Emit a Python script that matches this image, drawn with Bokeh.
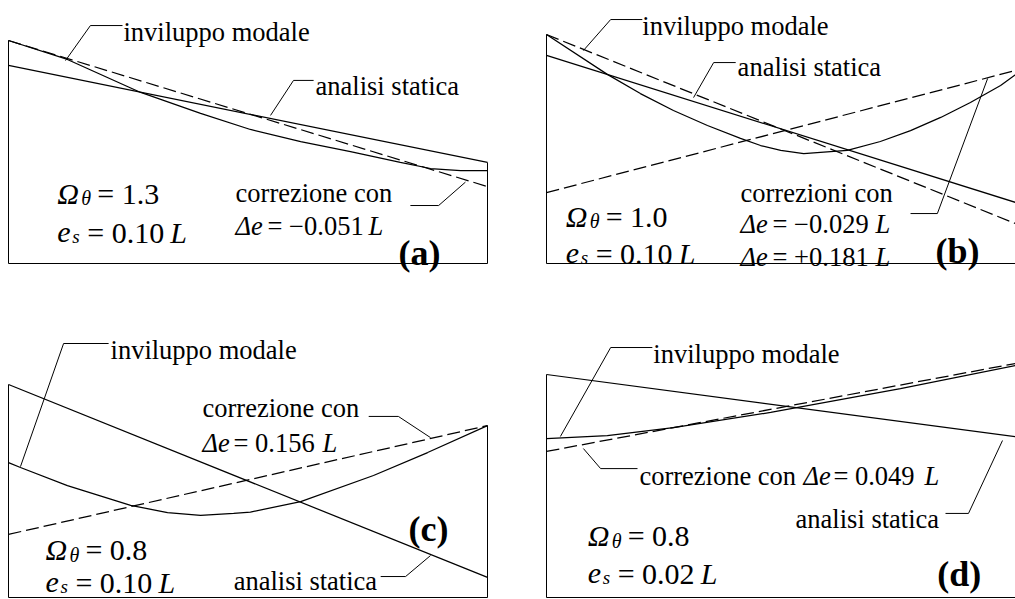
from bokeh.plotting import figure
from bokeh.models import Range1d
from bokeh.core.properties import value
from bokeh.embed import file_html
from bokeh.resources import INLINE

# ---------------- data (x in fractions of L, y = ordinate, panel height = 1) ----
panels = ["a", "b", "c", "d"]

A_x_env = [0, 0.123, 0.276, 0.401, 0.505, 0.610, 0.714, 0.818, 0.881, 0.944, 1.0]
A_y_env = [1.000, 0.915, 0.767, 0.673, 0.601, 0.547, 0.502, 0.453, 0.426, 0.417, 0.417]
A_x_lin = [0, 1]
A_y_stat = [0.888, 0.453]
A_y_corr = [1.000, 0.345]

B_x_env = [0, 0.127, 0.196, 0.265, 0.336, 0.405, 0.447, 0.489, 0.537, 0.628, 0.697,
           0.760, 0.823, 0.885, 0.948, 1.0]
B_y_env = [1.027, 0.848, 0.762, 0.686, 0.619, 0.561, 0.529, 0.507, 0.493, 0.507, 0.547,
           0.596, 0.655, 0.722, 0.798, 0.879]
B_x_lin = [0, 1]
B_y_stat = [0.933, 0.260]
B_y_corr1 = [1.027, 0.161]
B_y_corr2 = [0.318, 0.877]

C_x_env = [0, 0.025, 0.123, 0.255, 0.332, 0.401, 0.470, 0.505, 0.610, 0.762, 0.875, 1.0]
C_y_env = [0.605, 0.583, 0.502, 0.413, 0.381, 0.368, 0.377, 0.383, 0.430, 0.547, 0.650, 0.771]
C_x_lin = [0, 1]
C_y_stat = [0.955, 0.090]
C_y_corr = [0.283, 0.771]

D_x_env = [0, 0.127, 0.265, 0.468, 0.739, 0.979, 1.0]
D_y_env = [0.713, 0.726, 0.762, 0.830, 0.937, 1.040, 1.049]
D_x_lin = [0, 1]
D_y_stat = [1.000, 0.715]
D_y_corr = [0.655, 1.058]

omega_vals = ["1.3", "1.0", "0.8", "0.8"]
es_vals = ["0.10", "0.10", "0.10", "0.02"]
tags = ["(a)", "(b)", "(c)", "(d)"]

# leader lines (panel units)
A_leaders = [([0.238, 0.171, 0.119], [1.067, 1.067, 0.910]),
             ([0.637, 0.595, 0.547], [0.821, 0.821, 0.664]),
             ([0.839, 0.898, 0.954], [0.260, 0.260, 0.365])]
B_leaders = [([0.200, 0.134, 0.077], [1.094, 1.094, 0.955]),
             ([0.395, 0.349, 0.307], [0.901, 0.901, 0.744]),
             ([0.760, 0.816, 0.921], [0.224, 0.224, 0.830])]
C_leaders = [([0.209, 0.115, 0.025], [1.139, 1.139, 0.587]),
             ([0.752, 0.814, 0.881], [0.812, 0.812, 0.717]),
             ([0.777, 0.829, 0.881], [0.094, 0.094, 0.188])]
D_leaders = [([0.221, 0.134, 0.029], [1.121, 1.121, 0.722]),
             ([0.190, 0.113, 0.077], [0.578, 0.578, 0.668]),
             ([0.833, 0.881, 0.952], [0.377, 0.377, 0.704])]

# plain labels: (x, y, text)
A_labels = [(0.240, 1.036, "inviluppo modale"), (0.641, 0.798, "analisi statica"),
            (0.474, 0.314, "correzione con")]
B_labels = [(0.200, 1.063, "inviluppo modale"), (0.399, 0.879, "analisi statica"),
            (0.405, 0.318, "correzioni con")]
C_labels = [(0.213, 1.108, "inviluppo modale"), (0.405, 0.848, "correzione con"),
            (0.470, 0.076, "analisi statica")]
D_labels = [(0.223, 1.094, "inviluppo modale"), (0.194, 0.547, "correzione con"),
            (0.520, 0.354, "analisi statica")]

# delta-e labels: (x, y, value, offset of '=', offset of 'L', offset of 'Δe')
A_delta = [(0.474, 0.170, "= \u22120.051", 32, 133, 0)]
B_delta = [(0.405, 0.179, "= \u22120.029", 32, 135, 0), (0.405, 0.027, "= +0.181", 32, 135, 0)]
C_delta = [(0.405, 0.695, "= 0.156", 31, 120, 0)]
D_delta = [(0.194, 0.547, "= 0.049", 194, 285, 164)]

# equation block anchors
omega_pos = [(0.102, 0.314), (0.040, 0.211), (0.077, 0.215), (0.086, 0.278)]
es_pos = [(0.102, 0.139), (0.040, 0.045), (0.077, 0.067), (0.086, 0.108)]
tag_pos = [(0.814, 0.045), (0.812, 0.054), (0.835, 0.305), (0.816, 0.104)]

# ---------------- layout of panels on the picture (pixel geometry) ------------
W, H = 1015, 599
SX, SY = 479.0, 223.0
origin = {"a": (8, 263), "b": (546, 263), "c": (8, 597), "d": (546, 597)}

p = figure(width=W, height=H, output_backend="svg", toolbar_location=None,
           x_range=Range1d(0, 1), y_range=Range1d(0, 1), min_border=0,
           x_axis_location=None, y_axis_location=None)
p.grid.visible = False
p.outline_line_color = None
p.background_fill_color = "white"
p.border_fill_color = "white"

for k in panels:
    x0, yb = origin[k]
    xs = -x0 / SX
    ys = -(H - yb) / SY
    p.extra_x_ranges[k] = Range1d(xs, xs + W / SX)
    p.extra_y_ranges[k] = Range1d(ys, ys + H / SY)

LW = 1.25
DASH = "13 5"
FS = "26.5px"


def ln(k, x, y, dash="solid", lw=LW):
    p.line(x, y, line_color="black", line_width=lw, line_dash=dash,
           x_range_name=k, y_range_name=k)


def tx(k, x, y, s, size, style="normal", dx=0, dy=0):
    p.text(x=[x], y=[y], text=[s], x_offset=dx, y_offset=dy,
           text_font=value("Liberation Serif"),
           text_font_size=size, text_font_style=style, text_color="black",
           text_baseline="alphabetic", text_align="left",
           x_range_name=k, y_range_name=k)


series = {
    "a": (A_x_env, A_y_env, [(A_x_lin, A_y_stat)], [(A_x_lin, A_y_corr)]),
    "b": (B_x_env, B_y_env, [(B_x_lin, B_y_stat)], [(B_x_lin, B_y_corr1), (B_x_lin, B_y_corr2)]),
    "c": (C_x_env, C_y_env, [(C_x_lin, C_y_stat)], [(C_x_lin, C_y_corr)]),
    "d": (D_x_env, D_y_env, [(D_x_lin, D_y_stat)], [(D_x_lin, D_y_corr)]),
}
leaders = {"a": A_leaders, "b": B_leaders, "c": C_leaders, "d": D_leaders}
labels = {"a": A_labels, "b": B_labels, "c": C_labels, "d": D_labels}
deltas = {"a": A_delta, "b": B_delta, "c": C_delta, "d": D_delta}

for i, k in enumerate(panels):
    xe, ye, stats, corrs = series[k]
    left_top = max([ye[0]] + [s[1][0] for s in stats] + [c[1][0] for c in corrs])
    right_top = max([ye[-1]] + [s[1][-1] for s in stats] + [c[1][-1] for c in corrs])
    ln(k, [0, 0, 1, 1], [left_top, 0, 0, right_top], lw=1.0)
    ln(k, xe, ye)
    for sx_, sy_ in stats:
        ln(k, sx_, sy_)
    for cx_, cy_ in corrs:
        ln(k, cx_, cy_, dash=DASH)
    for lx, ly in leaders[k]:
        ln(k, lx, ly, lw=1.0)
    for (x, y, s) in labels[k]:
        tx(k, x, y, s, FS)
    for (x, y, val, deq, dL, dD) in deltas[k]:
        tx(k, x, y, "\u0394e", FS, "italic", dx=dD)
        tx(k, x, y, val, FS, dx=deq)
        tx(k, x, y, "L", FS, "italic", dx=dL)
    ox, oy = omega_pos[i]
    tx(k, ox, oy, "\u03a9", "30px", "italic")
    tx(k, ox, oy, "\u03b8", "20px", "italic", dx=24, dy=5)
    tx(k, ox, oy, "= " + omega_vals[i], "30px", dx=40)
    ex, ey = es_pos[i]
    tx(k, ex, ey, "e", "30px", "italic")
    tx(k, ex, ey, "s", "19px", "italic", dx=15, dy=4)
    tx(k, ex, ey, "= " + es_vals[i], "30px", dx=30)
    tx(k, ex, ey, "L", "30px", "italic", dx=113)
    gx, gy = tag_pos[i]
    tx(k, gx, gy, tags[i], "36px", "bold")

open("out.html", "w").write(file_html(p, INLINE))
